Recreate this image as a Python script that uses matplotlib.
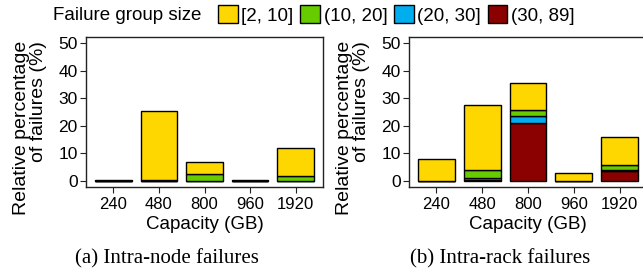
import matplotlib.pyplot as plt
import matplotlib.patches as mpatches
import numpy as np

plt.rcParams['font.family'] = ['Liberation Sans', 'DejaVu Sans']

capacities = ['240', '480', '800', '960', '1920']
group_labels = ['[2, 10]', '(10, 20]', '(20, 30]', '(30, 89]']
colors = ['#FFD700', '#66CC00', '#00AEEF', '#8B0000']

# stacked from bottom: (30, 89], (20, 30], (10, 20], [2, 10]
node_30_89 = [0.0, 0.0, 0.0, 0.0, 0.0]
node_20_30 = [0.0, 0.0, 0.0, 0.0, 0.0]
node_10_20 = [0.0, 0.3, 2.4, 0.0, 1.9]
node_2_10 = [0.3, 24.9, 4.5, 0.3, 9.9]

rack_30_89 = [0.0, 0.2, 21.0, 0.0, 3.5]
rack_20_30 = [0.0, 1.0, 2.5, 0.0, 0.5]
rack_10_20 = [0.0, 2.8, 2.1, 0.0, 1.6]
rack_2_10 = [8.1, 23.5, 9.8, 3.0, 10.4]

W, H = 643, 271
fig = plt.figure(figsize=(W / 100, H / 100), dpi=100)


def px_axes(x0, y0, x1, y1):
    return fig.add_axes([x0 / W, 1 - y1 / H, (x1 - x0) / W, (y1 - y0) / H])


def draw_panel(ax, stacks, label_x):
    x = np.arange(len(capacities))
    bottom = np.zeros(len(capacities))
    for vals, c in zip(stacks, [colors[3], colors[2], colors[1], colors[0]]):
        vals = np.array(vals)
        ax.bar(x, vals, 0.8, bottom=bottom, color=c, edgecolor='black', linewidth=1.0)
        bottom += vals
    ax.set_xlim(-0.6, 4.6)
    ax.set_ylim(-2.2, 52.2)
    ax.set_yticks([0, 10, 20, 30, 40, 50])
    ax.set_xticks(x)
    ax.set_xticklabels(capacities)
    ax.tick_params(axis='y', labelsize=12.5, length=4, width=0.8, pad=2, colors='#222222')
    ax.tick_params(axis='x', labelsize=12, length=4, width=0.8, pad=3, colors='#222222')
    ax.tick_params(labelcolor='black')
    for s in ax.spines.values():
        s.set_linewidth(1.0)
        s.set_color('#222222')
    ax.set_xlabel('Capacity (GB)', fontsize=13.5, labelpad=3)
    fig.text(label_x / W, 1 - 215 / H, 'Relative percentage\nof failures (%)', fontsize=14,
             rotation=90, ha='center', va='bottom', multialignment='right',
             linespacing=0.95)


ax1 = px_axes(86, 37, 323, 187)
draw_panel(ax1, [node_30_89, node_20_30, node_10_20, node_2_10], 30)
ax2 = px_axes(409, 37, 647, 187)
draw_panel(ax2, [rack_30_89, rack_20_30, rack_10_20, rack_2_10], 353)

fig.text(167 / W, 1 - 259 / H, '(a) Intra-node failures', family=['Liberation Serif'],
         fontsize=15, ha='center', va='center')
fig.text(500 / W, 1 - 259 / H, '(b) Intra-rack failures', family=['Liberation Serif'],
         fontsize=15, ha='center', va='center')

fig.text(53 / W, 1 - 15 / H, 'Failure group size', fontsize=13.5, ha='left', va='center')
handles = [mpatches.Patch(facecolor=c, edgecolor='black', linewidth=1.0) for c in colors]
fig.legend(handles, group_labels, loc='center left', bbox_to_anchor=(218 / W, 1 - 15 / H),
           ncol=4, frameon=False, fontsize=13.5, handlelength=1.05, handleheight=1.05,
           handletextpad=0.2, columnspacing=0.35, borderaxespad=0, borderpad=0)

fig.savefig('out.png', dpi=100)
